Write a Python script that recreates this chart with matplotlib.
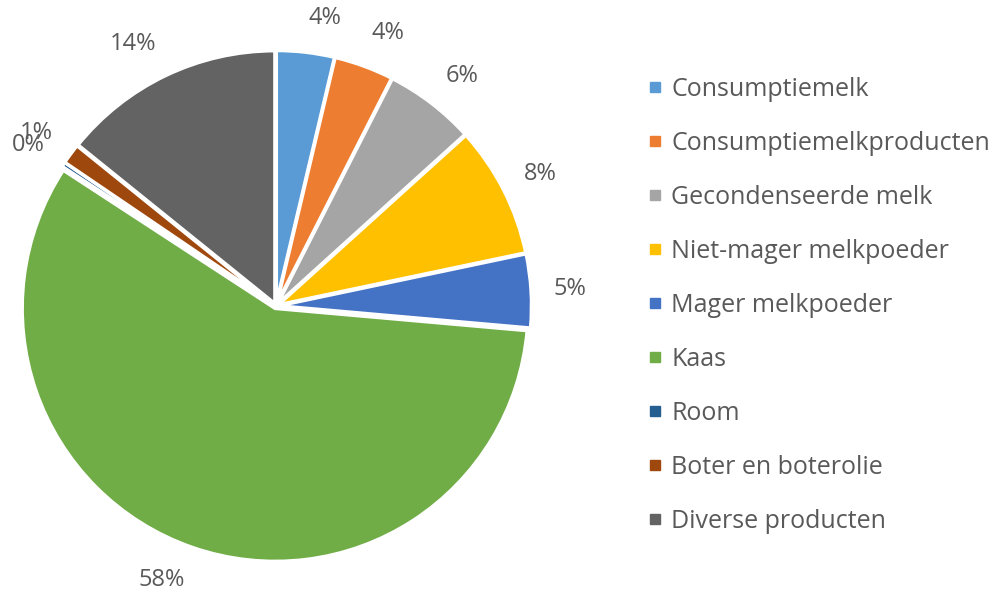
import matplotlib
matplotlib.use('Agg')
import numpy as np
import matplotlib.pyplot as plt
from matplotlib.lines import Line2D

categories = ['Consumptiemelk', 'Consumptiemelkproducten', 'Gecondenseerde melk',
              'Niet-mager melkpoeder', 'Mager melkpoeder', 'Kaas', 'Room',
              'Boter en boterolie', 'Diverse producten']
shares = [3.7, 3.8, 5.8, 8.4, 4.7, 57.8, 0.3, 1.3, 14.2]
colors = ['#5B9BD5', '#ED7D31', '#A5A5A5', '#FFC000', '#4472C4',
          '#70AD47', '#255E91', '#9E480E', '#636363']

plt.rcParams['font.family'] = ['Open Sans', 'DejaVu Sans']

W, H = 995, 593
fig = plt.figure(figsize=(W / 100, H / 100), dpi=100)

# pie: centre (276, 306) px, radius 253 px
cx, cy, r = 276, 306, 253
lim = 1.05
side = 2 * lim * r
ax = fig.add_axes([(cx - side / 2) / W, (H - cy - side / 2) / H, side / W, side / H])

wedges, texts, autotexts = ax.pie(
    shares, colors=colors, startangle=90, counterclock=False,
    autopct='%.0f%%', pctdistance=1.15,
    explode=[0.01] * len(shares),
    wedgeprops=dict(edgecolor='white', linewidth=2.5),
    textprops=dict(color='#595959', fontsize=17))
ax.set_xlim(-lim, lim)
ax.set_ylim(-lim, lim)
ax.set_aspect('equal')
ax.axis('off')

# outside-end labels: text box hangs off a point just outside the rim
renderer = fig.canvas.get_renderer()
for w, t in zip(wedges, autotexts):
    th = np.deg2rad((w.theta1 + w.theta2) / 2)
    bb = t.get_window_extent(renderer)
    ox = 1.1 * np.cos(th)
    oy = 1.1 * np.sin(th) + (bb.height / 2 / r) * np.sin(th)
    t.set_position((ox, oy))
    t.set_ha('left' if np.cos(th) >= 0 else 'right')
    t.set_va('center')

handles = [Line2D([0], [0], marker='s', linestyle='', markersize=7,
                  markerfacecolor=c, markeredgecolor=c) for c in colors]
fig.legend(handles, categories, loc='upper left', bbox_to_anchor=(636 / W, 1 - 64 / H),
           frameon=False, fontsize=18, labelcolor='#595959',
           handlelength=0.5, handletextpad=0.42, labelspacing=1.16, borderpad=0)

fig.savefig('out.png', dpi=100)
